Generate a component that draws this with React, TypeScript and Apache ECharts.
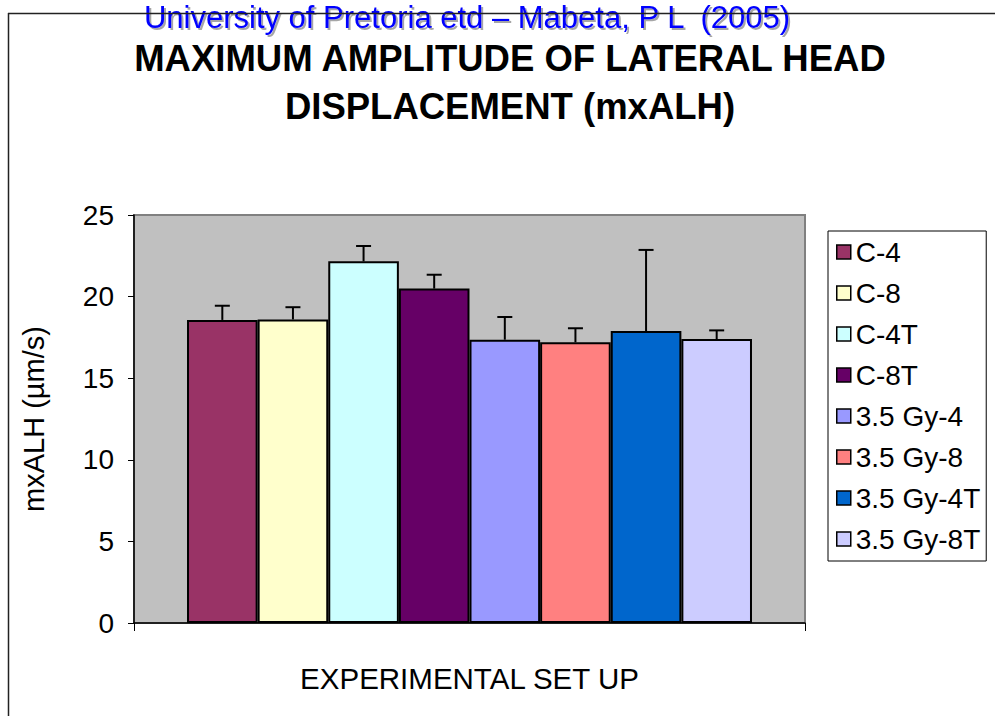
import React, { useEffect, useRef } from "react";
import * as echarts from "echarts";

const seriesNames = ["C-4", "C-8", "C-4T", "C-8T", "3.5 Gy-4", "3.5 Gy-8", "3.5 Gy-4T", "3.5 Gy-8T"];
const means = [18.57, 18.6, 22.16, 20.49, 17.36, 17.2, 17.89, 17.4];
const errors = [0.87, 0.75, 0.94, 0.85, 1.39, 0.86, 4.97, 0.53];
const colors = ["#993366", "#FFFFCC", "#CCFFFF", "#660066", "#9999FF", "#FF8080", "#0066CC", "#CCCCFF"];
const yTicks = [0, 5, 10, 15, 20, 25];
const categories = [""];

const FONT = "'Liberation Sans', Arial, sans-serif";
const CATEGORY_GAP = 0.158;

export default function App() {
  const ref = useRef<HTMLDivElement>(null);
  useEffect(() => {
    document.body.style.margin = "0";
    const chart = echarts.init(ref.current!, null, { renderer: "svg" });
    const barSeries = seriesNames.map((name, i) => ({
      name,
      type: "bar",
      data: [means[i]],
      barGap: "0%",
      barCategoryGap: CATEGORY_GAP * 100 + "%",
      itemStyle: { color: colors[i], borderColor: "#000", borderWidth: 2 },
      emphasis: { disabled: true },
      z: 2,
    }));
    const errSeries = {
      name: "err",
      type: "custom",
      z: 3,
      data: means.map((m, i) => [0, m, errors[i], i]),
      encode: { x: 0, y: 1 },
      renderItem: (params: any, api: any) => {
        const m = api.value(1);
        const e = api.value(2);
        const idx = api.value(3);
        const base = api.coord([0, m]);
        const top = api.coord([0, m + e]);
        const band = api.size([1, 0])[0];
        const total = band * (1 - CATEGORY_GAP);
        const bw = total / seriesNames.length;
        const cx = base[0] - total / 2 + (idx + 0.5) * bw;
        const cap = 7.5;
        const style = { stroke: "#000", lineWidth: 2 };
        return {
          type: "group",
          children: [
            { type: "line", shape: { x1: cx, y1: base[1], x2: cx, y2: top[1] }, style },
            { type: "line", shape: { x1: cx - cap, y1: top[1], x2: cx + cap, y2: top[1] }, style },
          ],
        };
      },
    };
    chart.setOption({
      animation: false,
      textStyle: { fontFamily: FONT },
      title: {
        text: "MAXIMUM AMPLITUDE OF LATERAL HEAD\nDISPLACEMENT (mxALH)",
        left: 510,
        top: 34,
        textAlign: "center",
        padding: 0,
        textStyle: { fontFamily: FONT, fontSize: 36.5, fontWeight: "bold", color: "#000", lineHeight: 48 },
      },
      legend: {
        data: seriesNames,
        orient: "vertical",
        left: 828,
        top: 231,
        padding: [7, 6, 8, 8],
        itemGap: 13,
        itemWidth: 14,
        itemHeight: 14,
        itemTextGap: 6,
        borderColor: "#000",
        borderWidth: 1,
        icon: "rect",
        selectedMode: false,
        textStyle: { fontFamily: FONT, fontSize: 28, color: "#000", lineHeight: 28 },
        itemStyle: { borderColor: "#000", borderWidth: 1.5 },
      },
      grid: {
        left: 134,
        right: 190,
        top: 215,
        bottom: 93,
        show: true,
        backgroundColor: "#C0C0C0",
        borderColor: "#808080",
        borderWidth: 2,
      },
      xAxis: {
        type: "category",
        data: categories,
        name: "EXPERIMENTAL SET UP",
        nameLocation: "middle",
        nameGap: 40,
        nameTextStyle: { fontFamily: FONT, fontSize: 29.5, color: "#000", verticalAlign: "top" },
        axisLine: { lineStyle: { color: "#000", width: 1.5 } },
        axisTick: { show: true, length: 8, lineStyle: { color: "#000" } },
        axisLabel: { show: false },
      },
      yAxis: {
        type: "value",
        min: yTicks[0],
        max: yTicks[yTicks.length - 1],
        interval: 5,
        name: "mxALH (µm/s)",
        nameLocation: "middle",
        nameRotate: 90,
        nameGap: 86,
        nameTextStyle: { fontFamily: FONT, fontSize: 29, color: "#000" },
        axisLine: { show: true, lineStyle: { color: "#000", width: 1.5 } },
        axisTick: { show: true, length: 6, lineStyle: { color: "#000" } },
        axisLabel: { fontFamily: FONT, fontSize: 28, color: "#000", margin: 20 },
        splitLine: { show: false },
      },
      graphic: [
        {
          type: "text",
          x: 467,
          y: 2,
          z: 1,
          style: {
            text: "University of Pretoria etd – Mabeta, P L  (2005)",
            fill: "#0000FF",
            font: "31px 'Liberation Sans', Arial, sans-serif",
            textAlign: "center",
            textVerticalAlign: "top",
            textShadowColor: "rgba(0,0,0,0.35)",
            textShadowOffsetX: 2,
            textShadowOffsetY: 2,
            textShadowBlur: 1,
          },
        },
        { type: "line", z: 10, shape: { x1: 8, y1: 13.5, x2: 995, y2: 13.5 }, style: { stroke: "#222", lineWidth: 1.5 } },
        { type: "line", z: 10, shape: { x1: 8.5, y1: 13, x2: 8.5, y2: 716 }, style: { stroke: "#222", lineWidth: 1.5 } },
      ],
      series: [...barSeries, errSeries],
    });
    return () => chart.dispose();
  }, []);
  return <div ref={ref} style={{ width: 995, height: 716 }} />;
}
